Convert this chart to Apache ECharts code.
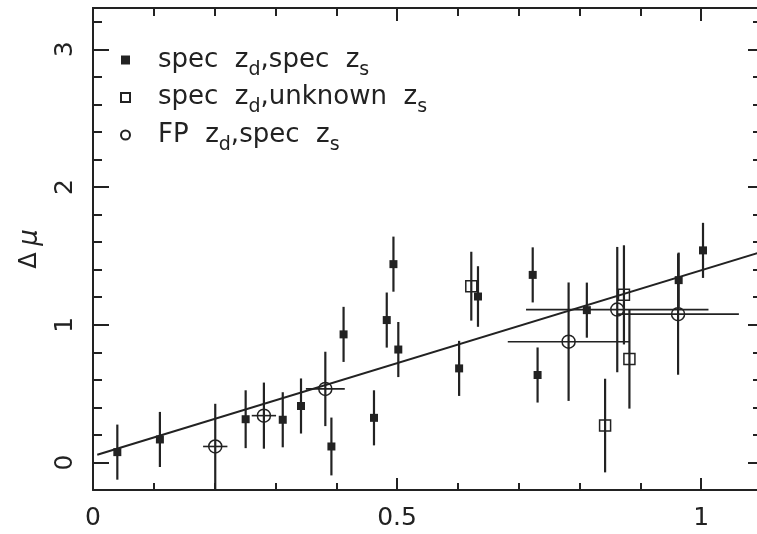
<!DOCTYPE html>
<html>
  <head>
    <meta charset="utf-8">
    <title>Delta mu vs z</title>
    <style>
      html, body { margin: 0; padding: 0; background: #fff; }
      #chart { width: 757px; height: 534px; }
    </style>
  </head>
  <body>
    <div id="chart"></div>
    <script src="https://cdn.jsdelivr.net/npm/echarts@6/dist/echarts.min.js"></script>
    <script>
      // spec z_d, spec z_s (filled squares)
      var specX   = [0.040, 0.110, 0.251, 0.312, 0.342, 0.392, 0.412, 0.462, 0.483, 0.494, 0.502, 0.602, 0.633, 0.723, 0.731, 0.812, 0.963, 1.003];
      var specY   = [0.075, 0.167, 0.314, 0.310, 0.410, 0.116, 0.930, 0.324, 1.034, 1.440, 0.820, 0.683, 1.205, 1.362, 0.635, 1.106, 1.324, 1.540];
      var specErr = [0.20, 0.20, 0.21, 0.20, 0.20, 0.21, 0.20, 0.20, 0.20, 0.20, 0.20, 0.20, 0.22, 0.20, 0.20, 0.20, 0.20, 0.20];

      // spec z_d, unknown z_s (open squares)
      var unkX   = [0.622, 0.842, 0.873, 0.882];
      var unkY   = [1.280, 0.268, 1.217, 0.751];
      var unkErr = [0.25, 0.34, 0.36, 0.36];

      // FP z_d, spec z_s (open circles)
      var fpX    = [0.201, 0.281, 0.382, 0.782, 0.862, 0.962];
      var fpY    = [0.116, 0.340, 0.534, 0.877, 1.110, 1.077];
      var fpErr  = [0.31, 0.24, 0.27, 0.43, 0.455, 0.44];
      var fpXErr = [0.02, 0.02, 0.032, 0.10, 0.15, 0.10];

      // fitted line end points
      var fitLine = [[0.007, 0.056], [1.1, 1.53]];

      // ticks
      var xLabels = [0, 0.5, 1];
      var xMinor  = [0.1, 0.2, 0.3, 0.4, 0.6, 0.7, 0.8, 0.9, 1.1];
      var yLabels = [0, 1, 2, 3];
      var yMinor  = [-0.2, 0.2, 0.4, 0.6, 0.8, 1.2, 1.4, 1.6, 1.8, 2.2, 2.4, 2.6, 2.8, 3.2];

      var INK = '#222';
      var FONT = 'DejaVu Sans';

      var names = ['spec', 'unknown', 'FP'];
      var legendRich = {
        spec: '{g|}{n|spec  z}{s|d}{n|,spec  z}{s|s}',
        unknown: '{g|}{n|spec  z}{s|d}{n|,unknown  z}{s|s}',
        FP: '{g|}{n|FP  z}{s|d}{n|,spec  z}{s|s}'
      };

      function rows(xs, ys, ey, ex) {
        return xs.map(function (x, i) {
          return [x, ys[i], ey[i], ex ? ex[i] : 0];
        });
      }

      function renderErr(params, api) {
        var x = api.value(0), y = api.value(1), ey = api.value(2), ex = api.value(3);
        var top = api.coord([x, y + ey]);
        var bot = api.coord([x, y - ey]);
        var kids = [{
          type: 'line',
          shape: { x1: top[0], y1: top[1], x2: bot[0], y2: bot[1] },
          style: { stroke: INK, lineWidth: 2.2 }
        }];
        if (ex > 0) {
          var l = api.coord([x - ex, y]);
          var r = api.coord([x + ex, y]);
          kids.push({
            type: 'line',
            shape: { x1: l[0], y1: l[1], x2: r[0], y2: r[1] },
            style: { stroke: INK, lineWidth: 1.6 }
          });
        }
        return { type: 'group', children: kids };
      }

      function errSeries(data) {
        return {
          type: 'custom',
          renderItem: renderErr,
          data: data,
          encode: { x: 0, y: 1 },
          clip: true,
          silent: true,
          z: 2
        };
      }

      function xAxis(pos, ticks, len, labels) {
        return {
          type: 'value', min: 0, max: 1.1, position: pos,
          axisLine: { show: !!labels || pos === 'top', onZero: false, lineStyle: { color: INK, width: 2 } },
          axisTick: { show: true, inside: true, length: len, customValues: ticks, lineStyle: { color: INK, width: 2 } },
          axisLabel: labels ? {
            customValues: labels, margin: 16, color: INK, fontFamily: FONT, fontSize: 25
          } : { show: false },
          splitLine: { show: false }
        };
      }

      function yAxis(pos, ticks, len, labels) {
        var ax = {
          type: 'value', min: -0.2, max: 3.3, position: pos,
          axisLine: { show: !!labels || pos === 'right', onZero: false, lineStyle: { color: INK, width: 2 } },
          axisTick: { show: true, inside: true, length: len, customValues: ticks, lineStyle: { color: INK, width: 2 } },
          axisLabel: labels ? {
            customValues: labels, margin: 15, rotate: 90, color: INK, fontFamily: FONT, fontSize: 25
          } : { show: false },
          splitLine: { show: false }
        };
        if (labels) {
          ax.name = '{d|Δ}  {m|μ}';
          ax.nameLocation = 'middle';
          ax.nameRotate = 90;
          ax.nameGap = 50;
          ax.nameTextStyle = {
            rich: {
              d: { fontFamily: FONT, fontSize: 24, color: INK },
              m: { fontFamily: FONT, fontSize: 26, fontStyle: 'italic', color: INK }
            }
          };
        }
        return ax;
      }

      var chart = echarts.init(document.getElementById('chart'), null, { renderer: 'canvas' });

      chart.setOption({
        animation: false,
        backgroundColor: '#fff',
        grid: { left: 93, right: -5, top: 8, bottom: 44, outerBoundsMode: 'none' },
        xAxis: [
          xAxis('bottom', xLabels, 12, xLabels),
          xAxis('bottom', xMinor, 7),
          xAxis('top', xLabels, 13),
          xAxis('top', xMinor, 8)
        ],
        yAxis: [
          yAxis('left', yLabels, 16, yLabels),
          yAxis('left', yMinor, 9),
          yAxis('right', yLabels, 14),
          yAxis('right', yMinor, 9)
        ],
        legend: {
          data: names,
          orient: 'vertical',
          left: 120,
          top: 47,
          padding: 0,
          itemGap: 5,
          itemWidth: 9,
          itemHeight: 9,
          selectedMode: false,
          formatter: function (name) { return legendRich[name]; },
          textStyle: {
            rich: {
              g: { width: 23 },
              n: { fontFamily: FONT, fontSize: 26, color: INK, lineHeight: 30 },
              s: { fontFamily: FONT, fontSize: 19, color: INK, height: 10, lineHeight: 10, verticalAlign: 'bottom' }
            }
          }
        },
        series: [
          {
            type: 'line',
            data: fitLine,
            symbol: 'none',
            lineStyle: { color: INK, width: 2 },
            silent: true,
            z: 1
          },
          errSeries(rows(specX, specY, specErr)),
          errSeries(rows(unkX, unkY, unkErr)),
          errSeries(rows(fpX, fpY, fpErr, fpXErr)),
          {
            name: 'spec',
            type: 'scatter',
            symbol: 'rect',
            symbolSize: 8,
            itemStyle: { color: INK, opacity: 1 },
            data: rows(specX, specY, specErr),
            z: 3
          },
          {
            name: 'unknown',
            type: 'scatter',
            symbol: 'rect',
            symbolSize: 11,
            itemStyle: { color: 'rgba(0,0,0,0)', borderColor: INK, borderWidth: 1.5, opacity: 1 },
            data: rows(unkX, unkY, unkErr),
            z: 3
          },
          {
            name: 'FP',
            type: 'scatter',
            symbol: 'circle',
            symbolSize: 13,
            itemStyle: { color: 'rgba(0,0,0,0)', borderColor: INK, borderWidth: 1.5, opacity: 1 },
            data: rows(fpX, fpY, fpErr, fpXErr),
            z: 3
          }
        ]
      });
    </script>
  </body>
</html>
